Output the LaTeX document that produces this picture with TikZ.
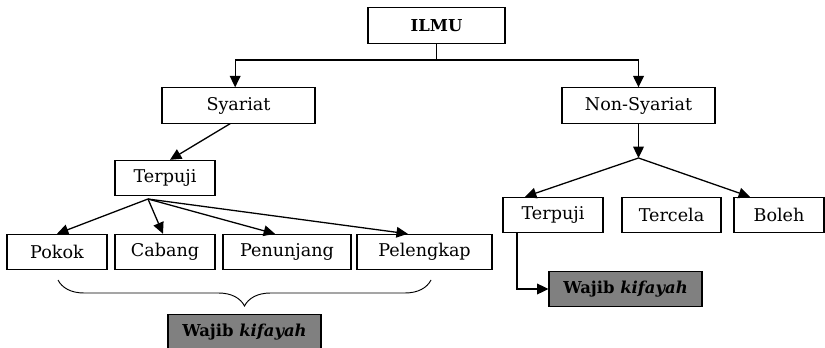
\documentclass[tikz,border=0pt]{standalone}
\usepackage{fontspec}
\setmainfont{DejaVu Serif}
\usepackage{xcolor}
\definecolor{cgray}{rgb}{0.5,0.5,0.5}
\usepackage{tikz}
\usetikzlibrary{positioning, arrows.meta, decorations.pathreplacing}
\tikzset{
Box/.style={
 	draw, rectangle,
	align=center,
	line width=0.9pt,
	minimum height=1.06cm,
	inner sep=0pt,
	font=\fontsize{15}{17}\selectfont
},
GrayBox/.style={
	Box,
	fill=cgray,
	font=\fontsize{14}{16}\selectfont\bfseries
},
Edge/.style={
	draw=black,
	line width=1.1pt
},
Arrow/.style={
	Edge,
	-{Triangle[length=0.34cm, width=0.32cm]}
}
}

\begin{document}
\begin{tikzpicture}[x=0.03cm, y=-0.03cm]
	\useasboundingbox (0,0) rectangle (825,348);
	\node[Box, minimum width=4.11cm, font=\fontsize{14}{16}\selectfont\bfseries] (ILMU) at (436.5,25.5) {ILMU};
	\node[Box, minimum width=4.59cm] (Syariat) at (238.5,105.5) {Syariat};
	\node[Box, minimum width=4.59cm] (NonSyariat) at (638.5,105.5) {Non-Syariat};

	\node[Box, minimum width=3cm] (TerpujiL) at (165,178) {Terpuji};
	\node[Box, minimum width=3cm] (Pokok) at (57,252) {Pokok};
	\node[Box, minimum width=3cm] (Cabang) at (165,252) {Cabang};
	\node[Box, minimum width=3.84cm] (Penunjang) at (287,252) {Penunjang};
	\node[Box, minimum width=4.05cm] (Pelengkap) at (424.5,252) {Pelengkap};

	\node[Box, minimum width=3cm] (TerpujiR) at (553,215) {Terpuji};
	\node[Box, minimum width=2.97cm] (Tercela) at (671.5,215) {Tercela};
	\node[Box, minimum width=2.7cm] (Boleh) at (779,215) {Boleh};

	\node[GrayBox, minimum width=4.59cm] (WajibL) at (244.5,332) {Wajib \textit{kifayah}};
	\node[GrayBox, minimum width=4.59cm] (WajibR) at (625.5,289) {Wajib \textit{kifayah}};

	\coordinate (split) at (436.5,60);
	\coordinate (fan) at (148,199);
	\coordinate (hub) at (638.5,158);
	\coordinate (braceL) at (58,280);
	\coordinate (braceR) at (431,280);

	\draw[Edge] (ILMU) -- (split);
	\draw[Arrow] (split) -| ([xshift=-0.1cm]Syariat.north);
	\draw[Arrow] (split) -| (NonSyariat.north);
	\draw[Arrow] ([xshift=-0.25cm]Syariat.south) -- ([xshift=0.15cm]TerpujiL.north);
	\draw[Arrow] (fan) -- (Pokok.north);
	\draw[Arrow] (fan) -- ([xshift=-0.06cm]Cabang.north);
	\draw[Arrow] (fan) -- ([xshift=-0.36cm]Penunjang.north);
	\draw[Arrow] (fan) -- ([xshift=-0.5cm]Pelengkap.north);
	\draw[Arrow] (NonSyariat) -- (hub);
	\draw[Arrow] (hub) -- ([xshift=-0.84cm]TerpujiR.north);
	\draw[Arrow] (hub) -- ([xshift=-0.87cm]Boleh.north);
	\draw[Arrow] ([xshift=-1.08cm]TerpujiR.south) |- (WajibR.west);
	\draw[Edge, line width=0.8pt, decorate, decoration={brace, mirror, amplitude=0.78cm}] (braceL) -- (braceR);
\end{tikzpicture}
\end{document}
